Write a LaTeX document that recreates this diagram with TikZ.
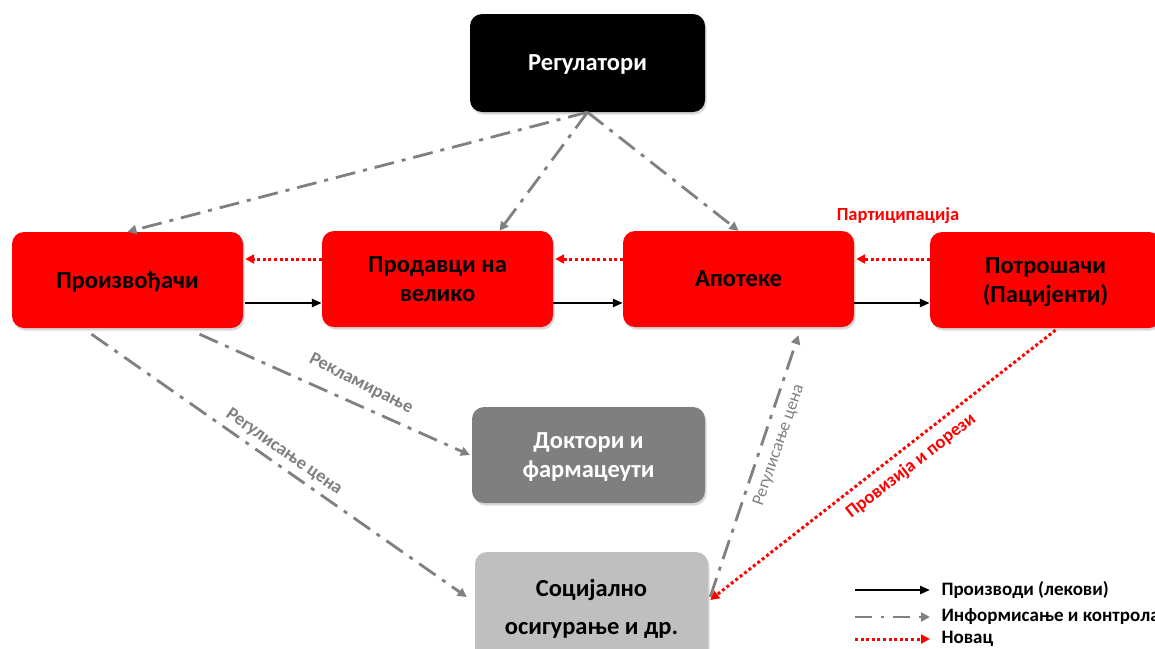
\documentclass[tikz,border=0pt]{standalone}
\usepackage{fontspec}
\setmainfont{Carlito}
\usetikzlibrary{arrows.meta,shadows,calc}
\definecolor{boxred}{HTML}{FF0000}
\definecolor{docgray}{HTML}{7F7F7F}
\definecolor{socgray}{HTML}{BFBFBF}
\definecolor{infogray}{HTML}{808080}
\begin{document}
\begin{tikzpicture}[x=1pt,y=-1pt,
  box/.style={rounded corners=12pt, minimum width=231pt, minimum height=96pt, align=center,
    text depth=0pt,
    font=\fontsize{24.5}{28.5}\selectfont\bfseries,
    drop shadow={shadow xshift=1.5pt,shadow yshift=-2.5pt,opacity=0.3}},
  redbox/.style={box, fill=boxred, text=black},
  infoline/.style={draw=infogray, line width=2.8pt, dash pattern=on 20pt off 8pt on 4pt off 8pt,
    -{Triangle[length=9pt,width=9pt]}},
  moneyline/.style={draw=boxred, line width=3pt, dash pattern=on 3pt off 2.6pt,
    -{Triangle[length=9pt,width=9pt]}},
  goodsline/.style={draw=black, line width=2.4pt, -{Triangle[length=10pt,width=8pt]}},
  graylabel/.style={font=\fontsize{18.5}{21}\selectfont\bfseries, text=infogray},
  redlabel/.style={font=\fontsize{18.5}{21}\selectfont\bfseries, text=boxred},
  legendtext/.style={font=\fontsize{19}{22}\selectfont\bfseries, text=black, anchor=west},
]
\useasboundingbox (0,0) rectangle (1155,648);
\clip (0,0) rectangle (1155,648);

% boxes
\node[box, fill=black, text=white, minimum width=235pt, minimum height=98pt] (reg) at (587.5,63) {Регулатори};
\node[redbox] (pro) at (127.5,280) {Произвођачи};
\node[redbox] (whole) at (437.5,279) {Продавци на\\велико};
\node[redbox] (apo) at (738.5,279) {Апотеке};
\node[redbox] (pot) at (1045.5,280) {Потрошачи\\(Пацијенти)};
\node[box, fill=docgray, text=white, minimum width=233pt] (doc) at (588.5,455) {Доктори и\\фармацеути};
\node[box, fill=socgray, text=black, minimum width=233pt, minimum height=110pt,
  font=\fontsize{24.5}{38}\selectfont\bfseries] (soc) at (591.5,607) {Социјално\\осигурање и др.};

% regulators
\draw[infoline] (reg.south) -- (pro.north);
\draw[infoline] (reg.south) -- ([xshift=62pt]whole.north);
\draw[infoline] (reg.south) -- (apo.north);

% goods flow
\draw[goodsline] ([xshift=2pt,yshift=-23pt]pro.east) -- ([yshift=-24pt]whole.west);
\draw[goodsline] ([yshift=-24pt]whole.east) -- ([yshift=-24pt]apo.west);
\draw[goodsline] ([yshift=-24pt]apo.east) -- ([yshift=-23pt]pot.west);

% money flow
\draw[moneyline] ([yshift=20pt]whole.west) -- ([xshift=2pt,yshift=21pt]pro.east);
\draw[moneyline] ([yshift=20pt]apo.west) -- ([xshift=2pt,yshift=20pt]whole.east);
\draw[moneyline] ([yshift=21pt]pot.west) -- ([xshift=2pt,yshift=20pt]apo.east);
\node[redlabel] (part) at (898,216) {Партиципација};

% info lines below
\draw[infoline] ([xshift=72pt,yshift=-6pt]pro.south) -- ([xshift=-2pt]doc.west);
\node[graylabel, rotate=-27] (lreklam) at (361,384) {Рекламирање};
\draw[infoline] ([xshift=-36pt,yshift=-6pt]pro.south) -- ([xshift=-8pt,yshift=10pt]soc.west);
\node[graylabel, rotate=-35] (lregl) at (284,452) {Регулисање цена};
\draw[infoline] ([xshift=2pt,yshift=10pt]soc.east) -- ([xshift=60pt,yshift=-8pt]apo.south);
\node[graylabel, font=\fontsize{17.5}{20}\selectfont, rotate=71] (lregr) at (779,445) {Регулисање цена};

% money to insurance
\draw[moneyline] ([xshift=10pt,yshift=-2pt]pot.south) -- ([xshift=2pt,yshift=7pt]soc.east);
\node[redlabel, rotate=38] (lprov) at (911,466) {Провизија и порези};

% legend
\coordinate (g1) at (855,590); \coordinate (g2) at (930,590);
\coordinate (i1) at (855,617); \coordinate (i2) at (930,617);
\coordinate (m1) at (855,639); \coordinate (m2) at (930,639);
\draw[goodsline] (g1) -- (g2);
\draw[infoline, dash pattern=on 17pt off 9pt on 3pt off 9pt] (i1) -- (i2);
\draw[moneyline] (m1) -- (m2);
\node[legendtext] (t1) at (938,590) {Производи (лекови)};
\node[legendtext] (t2) at (938,617) {Информисање и контрола};
\node[legendtext] (t3) at (938,639) {Новац};
\end{tikzpicture}
\end{document}
